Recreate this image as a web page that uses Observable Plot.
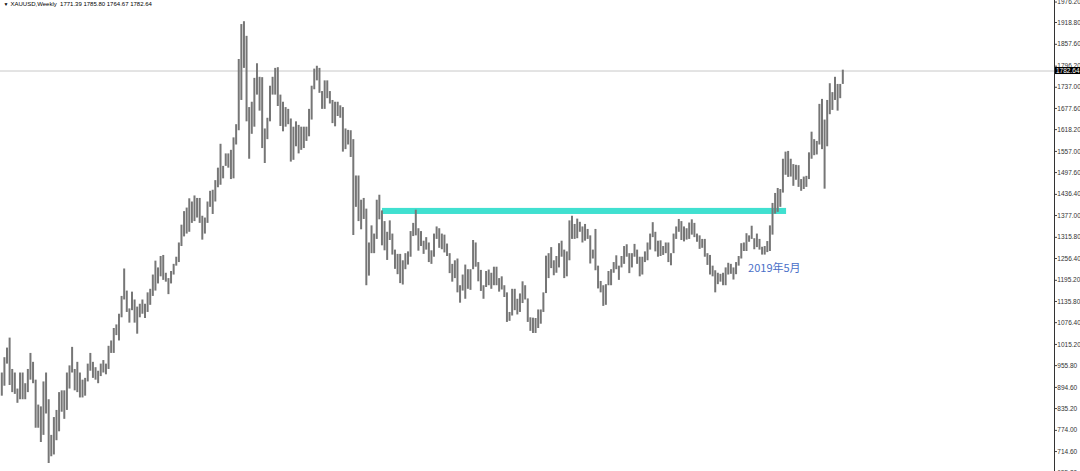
<!DOCTYPE html>
<html><head><meta charset="utf-8">
<script src="https://cdn.jsdelivr.net/npm/d3@7"></script>
<script src="https://cdn.jsdelivr.net/npm/@observablehq/plot@0.6"></script>
<style>html,body{margin:0;padding:0;background:#fff;} #chart{width:1080px;height:471px;overflow:hidden;}</style>
</head><body><div id="chart"></div>
<script>
const symbol = "XAUUSD,Weekly";
const lastBar = {open: 1771.39, high: 1785.80, low: 1764.67, close: 1782.64};

// two-week bars, Feb 2008 .. Jun 2020
const barHighs = [
  935,978,1005,1033,945,935,890,935,935,905,945,990,965,915,845,840,910,935,860,760,810,830,880,885,
  885,935,955,1007,945,965,935,915,920,960,990,965,950,940,960,970,960,1010,1025,1060,1070,1100,1150,1227,1165,1115,
  1162,1140,1120,1128,1140,1128,1160,1170,1210,1249,1230,1262,1265,1215,1200,1220,1240,1260,1300,1350,1388,1398,1424,1415,1432,1425,
  1425,1375,1370,1415,1445,1448,1475,1510,1577,1515,1550,1550,1560,1595,1632,1815,1913,1921,1880,1680,1695,1762,1803,1765,1764,1620,
  1650,1740,1765,1790,1792,1715,1695,1680,1675,1648,1625,1640,1630,1625,1625,1625,1675,1740,1788,1796,1790,1725,1755,1755,1725,1700,
  1695,1695,1685,1680,1620,1616,1615,1590,1488,1488,1420,1425,1395,1300,1348,1325,1420,1434,1390,1360,1330,1362,1325,1280,1268,1268,
  1250,1270,1275,1332,1355,1392,1340,1332,1305,1315,1300,1278,1325,1345,1340,1325,1322,1297,1270,1240,1250,1255,1180,1210,1238,1225,
  1225,1307,1300,1245,1223,1180,1220,1224,1215,1232,1232,1200,1205,1180,1160,1105,1170,1170,1142,1157,1191,1180,1143,1090,1089,1088,
  1112,1112,1160,1263,1270,1287,1250,1262,1298,1305,1280,1275,1362,1375,1352,1367,1358,1345,1352,1338,1320,1280,1338,1235,1192,1180,
  1183,1220,1225,1245,1264,1235,1262,1290,1295,1270,1270,1296,1280,1260,1260,1275,1300,1325,1357,1330,1305,1306,1290,1300,1300,1270,
  1325,1345,1366,1360,1345,1340,1356,1365,1355,1325,1320,1310,1310,1270,1265,1235,1222,1215,1212,1215,1230,1243,1240,1230,1245,1262,
  1298,1300,1326,1320,1347,1312,1325,1310,1288,1290,1304,1348,1411,1439,1453,1450,1535,1555,1557,1535,1520,1518,1517,1478,1485,1487,
  1553,1611,1590,1585,1689,1703,1645,1700,1747,1722,1765,1745,1745,1785
];
const barLows = [
  870,898,960,900,880,875,850,860,860,860,880,915,905,780,780,740,760,820,681,700,705,745,770,825,
  805,830,890,935,885,880,865,865,870,910,940,920,915,905,925,935,930,945,990,990,1040,1025,1090,1140,1105,1075,
  1110,1075,1044,1090,1100,1088,1105,1125,1150,1165,1185,1205,1195,1190,1155,1185,1210,1235,1245,1290,1317,1325,1330,1355,1360,1370,
  1355,1308,1325,1355,1400,1380,1415,1455,1462,1480,1515,1510,1478,1480,1575,1615,1700,1790,1640,1535,1605,1625,1715,1670,1565,1523,
  1590,1640,1715,1715,1683,1627,1612,1625,1632,1527,1532,1570,1550,1560,1565,1585,1598,1645,1730,1755,1720,1675,1675,1705,1690,1635,
  1626,1655,1650,1555,1562,1575,1540,1321,1400,1360,1337,1366,1180,1207,1270,1270,1310,1365,1292,1278,1251,1307,1266,1226,1211,1186,
  1182,1225,1238,1260,1318,1320,1277,1290,1268,1280,1245,1240,1260,1310,1285,1281,1272,1262,1214,1190,1200,1160,1131,1165,1142,1170,
  1167,1225,1232,1191,1164,1142,1175,1180,1170,1180,1180,1162,1168,1147,1077,1080,1095,1110,1098,1105,1130,1140,1077,1052,1046,1046,
  1060,1072,1105,1158,1200,1228,1208,1215,1230,1260,1200,1205,1250,1310,1310,1312,1330,1300,1305,1310,1241,1255,1222,1171,1160,1122,
  1125,1180,1180,1215,1225,1195,1230,1240,1260,1214,1230,1260,1240,1205,1210,1245,1250,1280,1315,1275,1260,1262,1265,1270,1245,1236,
  1270,1310,1330,1307,1303,1308,1310,1322,1315,1302,1282,1285,1260,1237,1210,1205,1160,1183,1190,1180,1180,1210,1212,1196,1211,1235,
  1255,1276,1276,1302,1310,1281,1287,1280,1266,1266,1273,1276,1322,1381,1386,1400,1440,1490,1484,1485,1459,1476,1456,1445,1450,1456,
  1478,1535,1545,1547,1575,1562,1451,1570,1660,1672,1700,1670,1705,1745
];

const yTicks = [1976.2,1918.8,1857.6,1796.2,1737.0,1677.6,1618.2,1557.0,1497.6,1436.4,1377.0,1315.8,1256.4,1195.2,1135.8,1076.4,1015.2,955.8,894.6,835.2,774.0,714.6,655.2];

const zone = [{from: 146.2, to: 301.4, low: 1380, high: 1397}];
const notes = [{x: 296.7, y: 1228, text: "2019年5月"}];

const bars = barHighs.map((h, i) => ({i, high: h, low: barLows[i]}));
const titleText = `${symbol}  ${lastBar.open.toFixed(2)} ${lastBar.high.toFixed(2)} ${lastBar.low.toFixed(2)} ${lastBar.close.toFixed(2)}`;

const W = 1080, H = 471, MR = 26;
const plot = Plot.plot({
  width: W, height: H,
  marginTop: 0, marginBottom: 0, marginLeft: 0, marginRight: MR,
  style: {background: "#fff", fontFamily: "'Liberation Sans', Arial, sans-serif", fontSize: "6.5px", color: "#333"},
  x: {domain: [-0.5, 404.3], axis: null},
  y: {domain: [658.6, 1980.55], axis: null},
  marks: [
    Plot.ruleY([lastBar.close], {stroke: "#c8c8c8", strokeWidth: 1}),
    Plot.rect(zone, {x1: "from", x2: "to", y1: "low", y2: "high", fill: "#40e0d0"}),
    Plot.ruleX(bars, {x: "i", y1: "low", y2: "high", stroke: "#767676", strokeWidth: 2}),
    Plot.axisY(yTicks, {anchor: "right", tickSize: 2, tickPadding: 0.8, tickFormat: d => d.toFixed(2), stroke: "#444", fill: "#333", fontSize: 6.5}),
    Plot.frame({anchor: "right", stroke: "#333"}),
    Plot.text(notes, {x: "x", y: "y", text: "text", fill: "#4a6fc8", fontSize: 11, fontFamily: "'Noto Sans CJK SC', sans-serif"}),
    Plot.text(["▼"], {frameAnchor: "top-left", dx: 3, dy: 2, fontSize: 5, fill: "#000", textAnchor: "start", lineAnchor: "top"}),
    Plot.text([titleText], {frameAnchor: "top-left", dx: 10, dy: 1, fontSize: 6, fill: "#000", textAnchor: "start", lineAnchor: "top"})
  ]
});
document.getElementById("chart").appendChild(plot);

const yPos = plot.scale("y").apply(lastBar.close);
const svg = d3.select(plot);
svg.append("rect").attr("x", W - MR + 1).attr("y", yPos - 3.5).attr("width", MR).attr("height", 7).attr("fill", "#000");
svg.append("text").attr("x", W - MR + 2).attr("y", yPos).attr("dy", "0.35em")
  .attr("text-anchor", "start")
  .attr("fill", "#fff").attr("font-size", "6.5px").attr("font-family", "'Liberation Sans', Arial, sans-serif")
  .text(lastBar.close.toFixed(2));
</script>
</body></html>
